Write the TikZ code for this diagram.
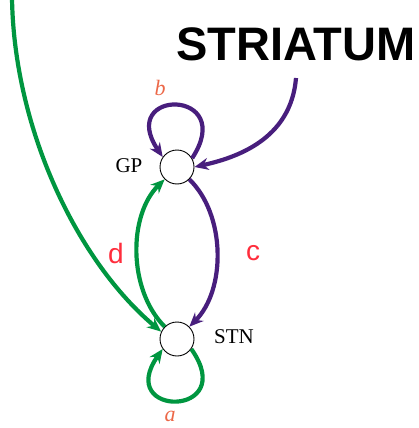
\documentclass[tikz,border=0pt]{standalone}
\usepackage{fontspec}
\setmainfont{Liberation Serif}
\setsansfont{Liberation Sans}
\usetikzlibrary{arrows.meta}
\definecolor{pgreen}{RGB}{0,150,64}
\definecolor{ppurple}{RGB}{72,30,125}
\definecolor{plabel}{RGB}{236,104,72}
\definecolor{pred}{RGB}{255,45,60}
\begin{document}
\begin{tikzpicture}[x=1pt,y=-1pt,
  nucleus/.style={circle,draw=black,line width=0.9pt,fill=white,minimum size=34pt,inner sep=0pt},
  conn/.style={line width=4.2pt,-{Stealth[length=14pt,width=12pt]}},
  gconn/.style={conn,draw=pgreen},
  pconn/.style={conn,draw=ppurple},
  nlabel/.style={font=\fontsize{21}{21}\selectfont},
  loopname/.style={font=\fontsize{22}{22}\selectfont\itshape,text=plabel},
  edgename/.style={font=\sffamily\fontsize{28}{28}\selectfont,text=pred}]
\useasboundingbox (0,0) rectangle (419,428);
\node[nucleus] (gp) at (177,167) {};
\node[nucleus] (stn) at (177,339) {};
\node[nlabel] (gpl) at (129,166) {GP};
\node[nlabel] (stnl) at (234,337) {STN};
\node[font=\sffamily\bfseries\fontsize{47}{47}\selectfont,inner sep=0pt] (str) at (296,44) {STRIATUM};
\coordinate (strend) at (296,78);
\coordinate (top) at (12,-2);
\node[loopname] (lb) at (160,88) {b};
\node[loopname] (la) at (170,416) {a};
\node[edgename] (ld) at (116,253) {d};
\node[edgename] (lc) at (253,253) {c};
% striatum -> GP
\draw[pconn] (strend) .. controls (291,140) and (235,158) .. (gp.east);
% long green -> STN
\draw[gconn] (top) .. controls (14,130) and (78,262) .. (stn.155);
% GP self loop
\draw[pconn] (gp.30) .. controls (238,88) and (116,88) .. (gp.145);
% STN self loop
\draw[gconn] (stn.-35) .. controls (240,418) and (114,418) .. (stn.-145);
% GP -> STN
\draw[pconn] (gp.-45) .. controls (226,215) and (226,290) .. (stn.45);
% STN -> GP
\draw[gconn] (stn.135) .. controls (128,290) and (128,215) .. (gp.-135);
\end{tikzpicture}
\end{document}
